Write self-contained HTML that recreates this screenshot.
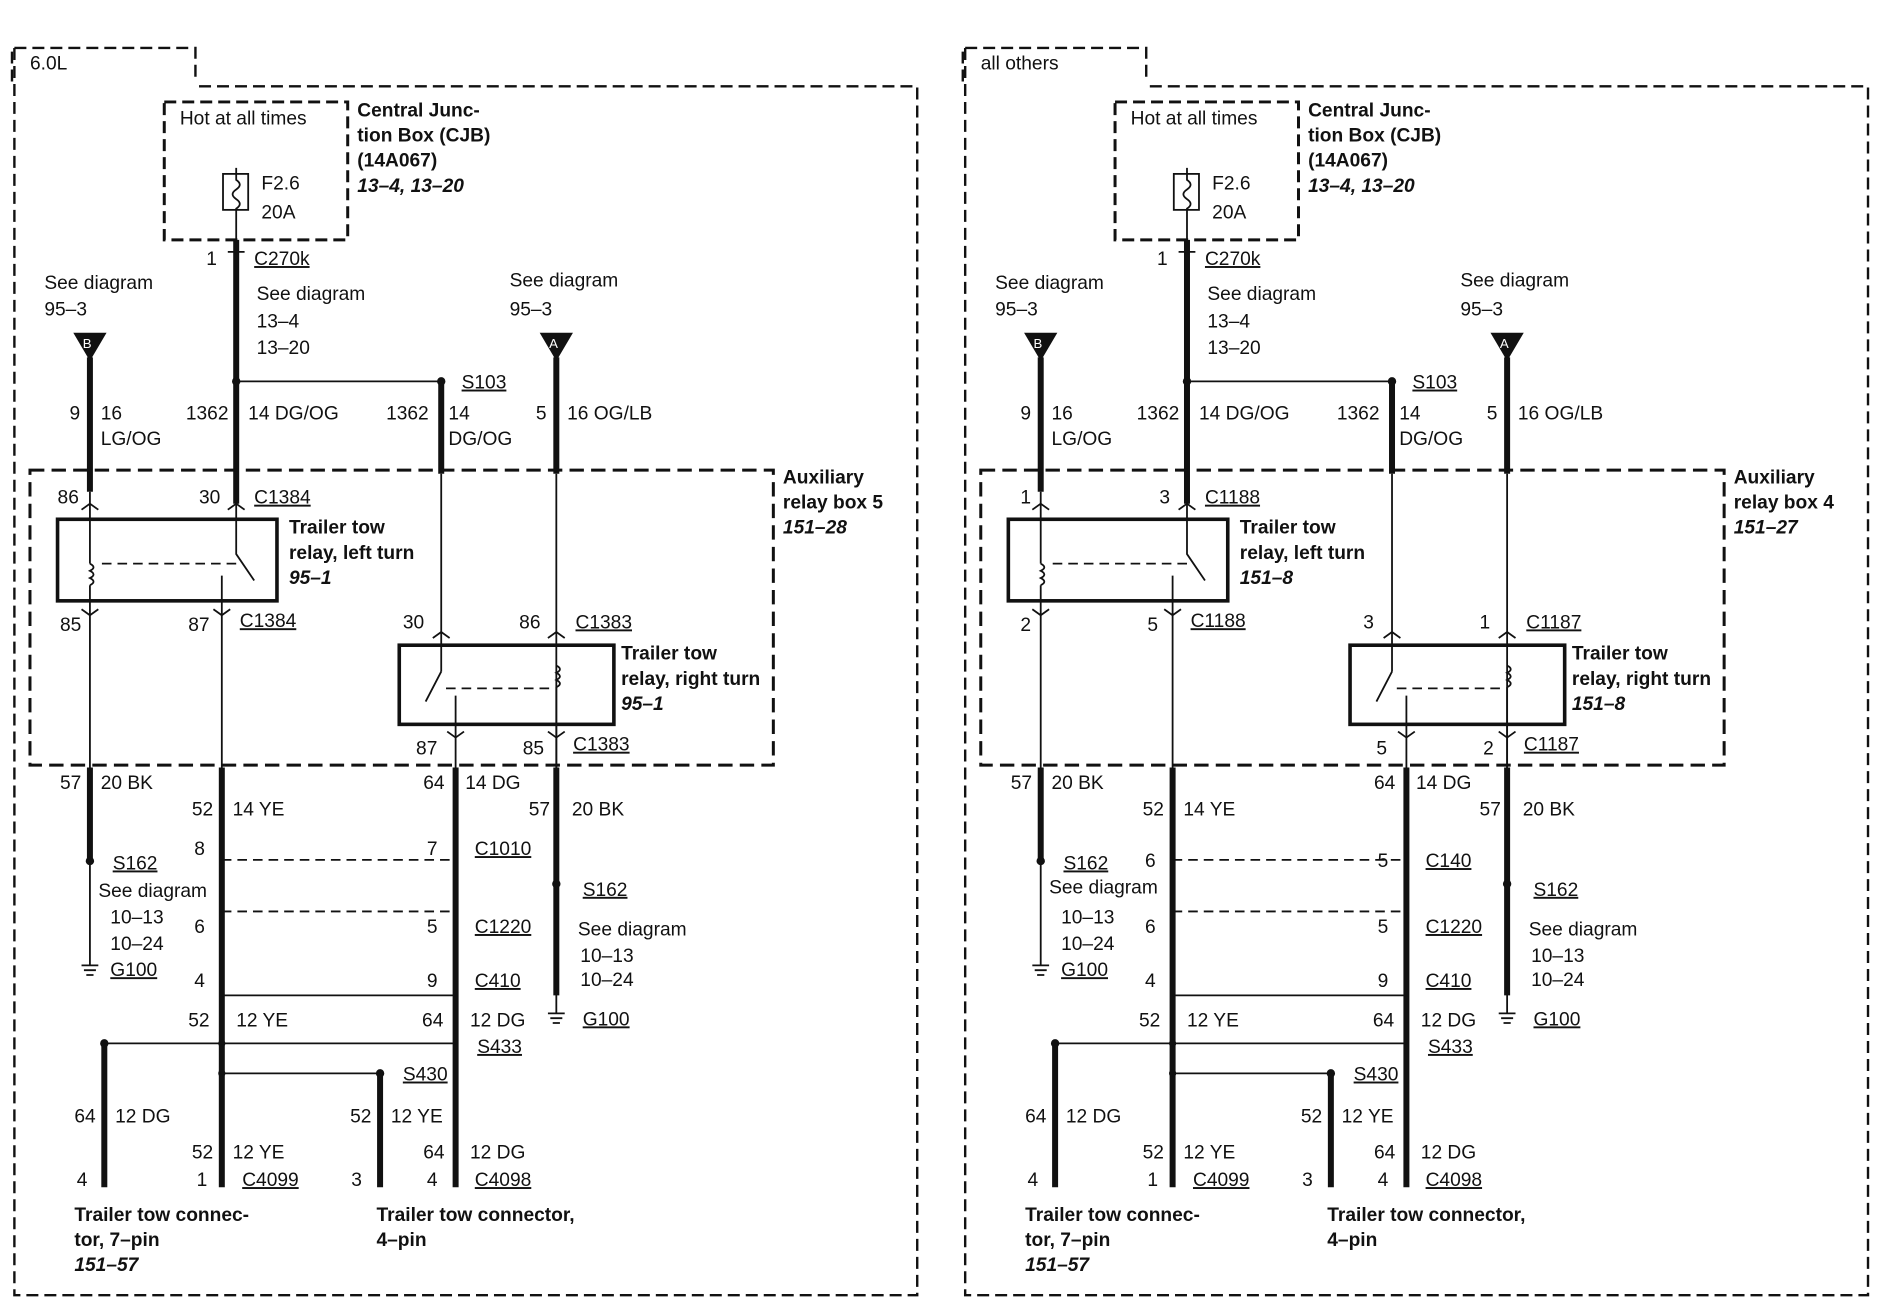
<!DOCTYPE html>
<html><head><meta charset="utf-8"><style>
html,body{margin:0;padding:0;background:#fff}
svg{display:block}
text{font-family:"Liberation Sans",sans-serif;font-size:16px;fill:#111}
.b{font-weight:bold}.i{font-weight:bold;font-style:italic}
.u{text-decoration:underline}
</style></head><body>
<svg width="1880" height="1312" viewBox="0 0 1568 1094" preserveAspectRatio="none" xmlns="http://www.w3.org/2000/svg">
<defs>
<g id="P" fill="none" stroke="#111">
 <path d="M10,68 V40 H163 V68" stroke-width="2" stroke-dasharray="10,5"/>
 <path d="M12,40 V1080 H765 V72 H163" stroke-width="2" stroke-dasharray="10,5"/>
 <rect x="137" y="85" width="153" height="115" stroke-width="2.5" stroke-dasharray="10,5"/>
 <rect x="186" y="145" width="21" height="30" stroke-width="1.5"/>
 <path d="M197,140 V150 q6,4 0,8 q-6,4 0,8 q6,4 0,8 V200" stroke-width="1.5"/>
 <path d="M197,200 V420" stroke-width="5"/>
 <path d="M190,210 H204" stroke-width="1.5"/>
 <path d="M197,318 H368" stroke-width="1.5"/>
 <path d="M368,318 V395" stroke-width="5"/>
 <path d="M368,395 V560" stroke-width="1.5"/>
 <path d="M62,278 H88 L75,300 Z" fill="#111"/>
 <path d="M75,298 V410" stroke-width="5"/>
 <path d="M451,278 H477 L464,300 Z" fill="#111"/>
 <path d="M464,298 V395" stroke-width="5"/>
 <path d="M464,395 V640" stroke-width="1.5"/>
 <rect x="25" y="392" width="620" height="246" stroke-width="2.5" stroke-dasharray="12,6"/>
 <rect x="48" y="433" width="183" height="68" stroke-width="3"/>
 <path d="M75,410 V470 M75,470 q6,3 0,6 q6,3 0,6 q6,3 0,6 M75,488 V640" stroke-width="1.5"/>
 <path d="M197,420 V462 L212,484" stroke-width="1.5"/>
 <path d="M85,470 H197" stroke-width="1.5" stroke-dasharray="8,5"/>
 <path d="M185,480 V640" stroke-width="1.5"/>
 <path d="M68,425 l7,-5 l7,5 M190,425 l7,-5 l7,5 M68,508 l7,5 l7,-5 M178,508 l7,5 l7,-5" stroke-width="1.5"/>
 <rect x="333" y="538" width="179" height="66" stroke-width="3"/>
 <path d="M368,560 L355,585 M380,580 V640" stroke-width="1.5"/>
 <path d="M464,555 q6,3 0,6 q6,3 0,6 q6,3 0,6" stroke-width="1.5"/>
 <path d="M464,573 V640" stroke-width="1.5"/>
 <path d="M372,574 H458" stroke-width="1.5" stroke-dasharray="8,5"/>
 <path d="M361,532 l7,-5 l7,5 M457,532 l7,-5 l7,5 M373,610 l7,5 l7,-5 M457,610 l7,5 l7,-5" stroke-width="1.5"/>
 <path d="M75,640 V718 M185,640 V990 M380,640 V990 M464,640 V830 M87,870 V990 M317,895 V990" stroke-width="5"/>
 <path d="M75,718 V805 M464,737 V845" stroke-width="1.5"/>
 <path d="M68,805 H82 M70,809 H80 M72,813 H78 M457,845 H471 M459,849 H469 M461,853 H467" stroke-width="1.5"/>
 <path d="M185,717 H380 M185,760 H380" stroke-width="1.5" stroke-dasharray="8,5"/>
 <path d="M185,830 H380" stroke-width="1.5"/>
 <path d="M87,870 H380 M185,895 H317" stroke-width="1.5"/>
</g>
<g id="D" fill="#111">
 <circle cx="197" cy="318" r="3.5"/><circle cx="368" cy="318" r="3.5"/>
 <circle cx="75" cy="718" r="3.5"/><circle cx="464" cy="737" r="3.5"/>
 <circle cx="87" cy="870" r="3.5"/><circle cx="185" cy="870" r="3"/>
 <circle cx="317" cy="895" r="3.5"/><circle cx="185" cy="895" r="3"/>
</g>
</defs>
<use href="#P"/><use href="#D"/>
<use href="#P" transform="translate(793,0)"/><use href="#D" transform="translate(793,0)"/>

<text x="25" y="58">6.0L</text>
<text x="150" y="104">Hot at all times</text>
<text x="218" y="158">F2.6</text><text x="218" y="182">20A</text>
<text class="b" x="298" y="97">Central Junc-</text><text class="b" x="298" y="118">tion Box (CJB)</text><text class="b" x="298" y="139">(14A067)</text><text class="i" x="298" y="160">13–4, 13–20</text>
<text x="172" y="221">1</text><text class="u" x="212" y="221">C270k</text>
<text x="214" y="250">See diagram</text><text x="214" y="273">13–4</text><text x="214" y="295">13–20</text>
<text x="37" y="241">See diagram</text><text x="37" y="263">95–3</text>
<text x="425" y="239">See diagram</text><text x="425" y="263">95–3</text>
<text x="69" y="290" style="fill:#fff;font-size:11px">B</text><text x="458" y="290" style="fill:#fff;font-size:11px">A</text>
<text class="u" x="385" y="324">S103</text>
<text x="58" y="350">9</text><text x="84" y="350">16</text><text x="84" y="371">LG/OG</text>
<text x="155" y="350">1362</text><text x="207" y="350">14 DG/OG</text>
<text x="322" y="350">1362</text><text x="374" y="350">14</text><text x="374" y="371">DG/OG</text>
<text x="447" y="350">5</text><text x="473" y="350">16 OG/LB</text>
<text class="b" x="653" y="403">Auxiliary</text><text class="b" x="653" y="424">relay box 5</text><text class="i" x="653" y="445">151–28</text>
<text x="48" y="420">86</text><text x="166" y="420">30</text><text class="u" x="212" y="420">C1384</text>
<text class="b" x="241" y="445">Trailer tow</text><text class="b" x="241" y="466">relay, left turn</text><text class="i" x="241" y="487">95–1</text>
<text x="50" y="526">85</text><text x="157" y="526">87</text><text class="u" x="200" y="523">C1384</text>
<text x="336" y="524">30</text><text x="433" y="524">86</text><text class="u" x="480" y="524">C1383</text>
<text class="b" x="518" y="550">Trailer tow</text><text class="b" x="518" y="571">relay, right turn</text><text class="i" x="518" y="592">95–1</text>
<text x="347" y="629">87</text><text x="436" y="629">85</text><text class="u" x="478" y="626">C1383</text>
<text x="50" y="658">57</text><text x="84" y="658">20 BK</text>
<text x="160" y="680">52</text><text x="194" y="680">14 YE</text>
<text x="353" y="658">64</text><text x="388" y="658">14 DG</text>
<text x="441" y="680">57</text><text x="477" y="680">20 BK</text>
<text x="162" y="713">8</text><text x="356" y="713">7</text><text class="u" x="396" y="713">C1010</text>
<text class="u" x="94" y="725">S162</text><text x="82" y="748">See diagram</text><text x="92" y="770">10–13</text><text x="92" y="792">10–24</text><text class="u" x="92" y="814">G100</text>
<text class="u" x="486" y="747">S162</text><text x="482" y="780">See diagram</text><text x="484" y="802">10–13</text><text x="484" y="822">10–24</text><text class="u" x="486" y="855">G100</text>
<text x="162" y="778">6</text><text x="356" y="778">5</text><text class="u" x="396" y="778">C1220</text>
<text x="162" y="823">4</text><text x="356" y="823">9</text><text class="u" x="396" y="823">C410</text>
<text x="157" y="856">52</text><text x="197" y="856">12 YE</text><text x="352" y="856">64</text><text x="392" y="856">12 DG</text>
<text class="u" x="398" y="878">S433</text><text class="u" x="336" y="901">S430</text>
<text x="62" y="936">64</text><text x="96" y="936">12 DG</text><text x="292" y="936">52</text><text x="326" y="936">12 YE</text>
<text x="160" y="966">52</text><text x="194" y="966">12 YE</text><text x="353" y="966">64</text><text x="392" y="966">12 DG</text>
<text x="64" y="989">4</text><text x="164" y="989">1</text><text class="u" x="202" y="989">C4099</text><text x="293" y="989">3</text><text x="356" y="989">4</text><text class="u" x="396" y="989">C4098</text>
<text class="b" x="62" y="1018">Trailer tow connec-</text><text class="b" x="62" y="1039">tor, 7–pin</text><text class="i" x="62" y="1060">151–57</text>
<text class="b" x="314" y="1018">Trailer tow connector,</text><text class="b" x="314" y="1039">4–pin</text>

<g transform="translate(793,0)">
<text x="25" y="58">all others</text>
<text x="150" y="104">Hot at all times</text>
<text x="218" y="158">F2.6</text><text x="218" y="182">20A</text>
<text class="b" x="298" y="97">Central Junc-</text><text class="b" x="298" y="118">tion Box (CJB)</text><text class="b" x="298" y="139">(14A067)</text><text class="i" x="298" y="160">13–4, 13–20</text>
<text x="172" y="221">1</text><text class="u" x="212" y="221">C270k</text>
<text x="214" y="250">See diagram</text><text x="214" y="273">13–4</text><text x="214" y="295">13–20</text>
<text x="37" y="241">See diagram</text><text x="37" y="263">95–3</text>
<text x="425" y="239">See diagram</text><text x="425" y="263">95–3</text>
<text x="69" y="290" style="fill:#fff;font-size:11px">B</text><text x="458" y="290" style="fill:#fff;font-size:11px">A</text>
<text class="u" x="385" y="324">S103</text>
<text x="58" y="350">9</text><text x="84" y="350">16</text><text x="84" y="371">LG/OG</text>
<text x="155" y="350">1362</text><text x="207" y="350">14 DG/OG</text>
<text x="322" y="350">1362</text><text x="374" y="350">14</text><text x="374" y="371">DG/OG</text>
<text x="447" y="350">5</text><text x="473" y="350">16 OG/LB</text>
<text class="b" x="653" y="403">Auxiliary</text><text class="b" x="653" y="424">relay box 4</text><text class="i" x="653" y="445">151–27</text>
<text x="58" y="420">1</text><text x="174" y="420">3</text><text class="u" x="212" y="420">C1188</text>
<text class="b" x="241" y="445">Trailer tow</text><text class="b" x="241" y="466">relay, left turn</text><text class="i" x="241" y="487">151–8</text>
<text x="58" y="526">2</text><text x="164" y="526">5</text><text class="u" x="200" y="523">C1188</text>
<text x="344" y="524">3</text><text x="441" y="524">1</text><text class="u" x="480" y="524">C1187</text>
<text class="b" x="518" y="550">Trailer tow</text><text class="b" x="518" y="571">relay, right turn</text><text class="i" x="518" y="592">151–8</text>
<text x="355" y="629">5</text><text x="444" y="629">2</text><text class="u" x="478" y="626">C1187</text>
<text x="50" y="658">57</text><text x="84" y="658">20 BK</text>
<text x="160" y="680">52</text><text x="194" y="680">14 YE</text>
<text x="353" y="658">64</text><text x="388" y="658">14 DG</text>
<text x="441" y="680">57</text><text x="477" y="680">20 BK</text>
<text x="162" y="723">6</text><text x="356" y="723">5</text><text class="u" x="396" y="723">C140</text>
<text class="u" x="94" y="725">S162</text><text x="82" y="745">See diagram</text><text x="92" y="770">10–13</text><text x="92" y="792">10–24</text><text class="u" x="92" y="814">G100</text>
<text class="u" x="486" y="747">S162</text><text x="482" y="780">See diagram</text><text x="484" y="802">10–13</text><text x="484" y="822">10–24</text><text class="u" x="486" y="855">G100</text>
<text x="162" y="778">6</text><text x="356" y="778">5</text><text class="u" x="396" y="778">C1220</text>
<text x="162" y="823">4</text><text x="356" y="823">9</text><text class="u" x="396" y="823">C410</text>
<text x="157" y="856">52</text><text x="197" y="856">12 YE</text><text x="352" y="856">64</text><text x="392" y="856">12 DG</text>
<text class="u" x="398" y="878">S433</text><text class="u" x="336" y="901">S430</text>
<text x="62" y="936">64</text><text x="96" y="936">12 DG</text><text x="292" y="936">52</text><text x="326" y="936">12 YE</text>
<text x="160" y="966">52</text><text x="194" y="966">12 YE</text><text x="353" y="966">64</text><text x="392" y="966">12 DG</text>
<text x="64" y="989">4</text><text x="164" y="989">1</text><text class="u" x="202" y="989">C4099</text><text x="293" y="989">3</text><text x="356" y="989">4</text><text class="u" x="396" y="989">C4098</text>
<text class="b" x="62" y="1018">Trailer tow connec-</text><text class="b" x="62" y="1039">tor, 7–pin</text><text class="i" x="62" y="1060">151–57</text>
<text class="b" x="314" y="1018">Trailer tow connector,</text><text class="b" x="314" y="1039">4–pin</text>
</g>
</svg>
</body></html>
